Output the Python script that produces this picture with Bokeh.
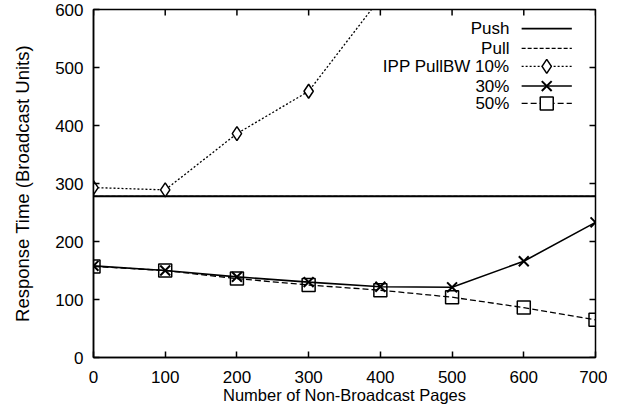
import math
from bokeh.plotting import figure
from bokeh.models import Range1d, FixedTicker
from bokeh.embed import file_html
from bokeh.resources import INLINE
from bokeh.core.properties import value

# data
pages = [0, 100, 200, 300, 400, 500, 600, 700]
push = [278, 278, 278, 278, 278, 278, 278, 278]
pull = [278, 278, 278, 278, 278, 278, 278, 278]
ipp10_x = [0, 100, 200, 300, 400]
ipp10 = [293, 289, 386, 459, 620]
ipp30 = [158, 150, 139, 130, 122, 121, 166, 233]
ipp50 = [157, 150, 136, 125, 116, 104, 86, 65]

x_ticks = [0, 100, 200, 300, 400, 500, 600, 700]
y_ticks = [0, 100, 200, 300, 400, 500, 600]

legend_labels = ["Push", "Pull", "IPP PullBW 10%", "30%", "50%"]

FONT = "Liberation Sans"
X_MIN, X_MAX, Y_MIN, Y_MAX = 0, 700, 0, 600

p = figure(frame_width=502, frame_height=348, output_backend="svg", toolbar_location=None,
           x_range=Range1d(X_MIN, X_MAX), y_range=Range1d(Y_MIN, Y_MAX),
           min_border_left=93, min_border_right=12, min_border_top=9, min_border_bottom=38)
p.outline_line_color = "black"
p.outline_line_width = 1.5
p.xgrid.visible = False
p.ygrid.visible = False
p.background_fill_color = "white"
p.border_fill_color = "white"

for ax, ticks in ((p.xaxis[0], x_ticks), (p.yaxis[0], y_ticks)):
    ax.ticker = FixedTicker(ticks=ticks)
    ax.major_tick_in = 6
    ax.major_tick_out = 0
    ax.minor_tick_in = 0
    ax.minor_tick_out = 0
    ax.axis_line_width = 1.5
    ax.major_tick_line_width = 1.5
    ax.major_label_text_font = FONT
    ax.major_label_text_font_size = "17px"
    ax.major_label_text_color = "black"
    ax.axis_label_text_font = FONT
    ax.axis_label_text_font_style = "normal"
    ax.axis_label_text_color = "black"

p.xaxis.axis_label = "Number of Non-Broadcast Pages"
p.yaxis.axis_label = "Response Time (Broadcast Units)"
p.xaxis.axis_label_text_font_size = "16.5px"
p.yaxis.axis_label_text_font_size = "18.5px"
p.xaxis.major_label_standoff = 13
p.xaxis.axis_label_standoff = 0
p.yaxis.major_label_standoff = 10
p.yaxis.axis_label_standoff = 19

# mirrored inward ticks on the top and right edges
p.ray(x_ticks, [Y_MAX] * len(x_ticks), length=6, length_units="screen", angle=-math.pi / 2,
      line_color="black", line_width=1.5)
p.ray([X_MAX] * len(y_ticks), y_ticks, length=6, length_units="screen", angle=math.pi,
      line_color="black", line_width=1.5)

# series
p.line(pages, push, line_color="black", line_width=2)
p.line(pages, pull, line_color="black", line_width=1.2, line_dash="4 2")
p.line(ipp10_x, ipp10, line_color="black", line_width=1.3, line_dash="2 2")
p.scatter(ipp10_x, ipp10, marker="diamond", size=14, fill_color="white", line_color="black", line_width=1.5)
p.line(pages, ipp30, line_color="black", line_width=1.6)
p.scatter(pages, ipp30, marker="x", size=14, line_color="black", line_width=2)
p.line(pages, ipp50, line_color="black", line_width=1.3, line_dash="6 3")
p.scatter(pages, ipp50, marker="square", size=13, fill_color=None, line_color="black", line_width=1.5)

# legend (label on the left, sample on the right), in data space
leg_y = [567, 533, 502, 468, 438]
lx_text = 580
lx0, lx1, lxm = 597, 667, 632
p.text([lx_text] * 5, leg_y, text=legend_labels, text_align="right", text_baseline="middle",
       text_font=value(FONT), text_font_size="17px", text_color="black")
styles = [("solid", 1.6, None), ("4 2", 1.2, None), ("2 2", 1.3, "diamond"), ("solid", 1.6, "x"), ("6 3", 1.3, "square")]
for yy, (dash, w, mk) in zip(leg_y, styles):
    p.line([lx0, lx1], [yy, yy], line_color="black", line_width=w, line_dash=dash)
    if mk == "diamond":
        p.scatter([lxm], [yy], marker="diamond", size=14, fill_color="white", line_color="black", line_width=1.5)
    elif mk == "x":
        p.scatter([lxm], [yy], marker="x", size=14, line_color="black", line_width=2)
    elif mk == "square":
        p.scatter([lxm], [yy], marker="square", size=13, fill_color="white", line_color="black", line_width=1.5)

open("out.html", "w").write(file_html(p, INLINE))
